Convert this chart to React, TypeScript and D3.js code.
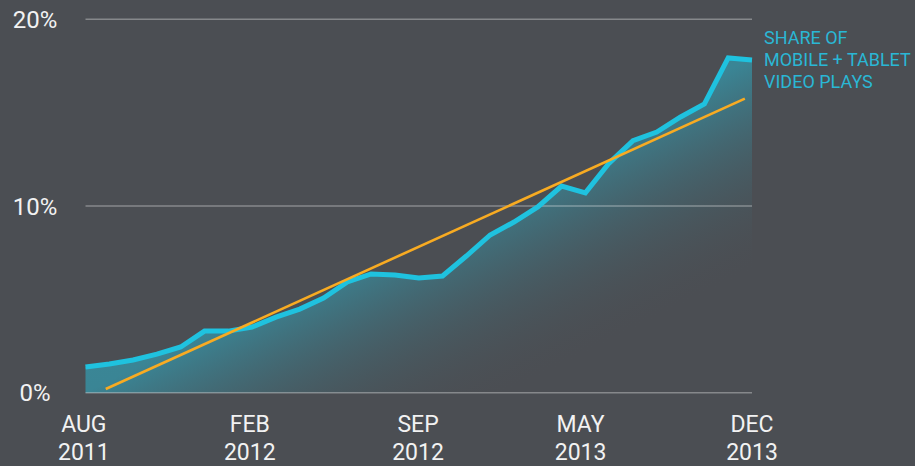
import React from "react";
import * as d3 from "d3";

// monthly share of mobile + tablet video plays, AUG 2011 .. DEC 2013 (%)
const shareValues = [
  1.38, 1.54, 1.75, 2.07, 2.45, 3.3, 3.3, 3.52, 4.05, 4.48,
  5.07, 5.93, 6.36, 6.3, 6.14, 6.25, 7.32, 8.45, 9.14, 9.95,
  11.07, 10.7, 12.3, 13.5, 13.96, 14.77, 15.47, 17.93, 17.82,
];

// trend line end points: [month index, %]
const trendPoints: [number, number][] = [
  [0.85, 0.2],
  [27.7, 15.75],
];

const tickLabels = [
  ["AUG", "2011"],
  ["FEB", "2012"],
  ["SEP", "2012"],
  ["MAY", "2013"],
  ["DEC", "2013"],
];
const tickMonths = [-0.07, 6.9, 13.97, 20.8, 28];

const yTicks = [0, 10, 20];
const seriesLabel = ["SHARE OF", "MOBILE + TABLET", "VIDEO PLAYS"];

const W = 915;
const H = 466;
const BG = "#4b4e53";
const CYAN = "#1fc2df";
const ORANGE = "#f8ab22";
const FONT = "Roboto, 'Liberation Sans', Arial, sans-serif";

export default function App() {
  const x = d3.scaleLinear().domain([0, shareValues.length - 1]).range([85.5, 752]);
  const y = d3.scaleLinear().domain([0, 20]).range([392.7, 19.3]);

  const area = d3
    .area<number>()
    .x((_, i) => x(i))
    .y0(y(0))
    .y1((d) => y(d));

  const line = d3
    .line<number>()
    .x((_, i) => x(i))
    .y((d) => y(d));

  const trend = d3
    .line<[number, number]>()
    .x((d) => x(d[0]))
    .y((d) => y(d[1]));

  return (
    <svg
      width={W}
      height={H}
      style={{ position: "absolute", left: 0, top: 0, display: "block" }}
    >
      <defs>
        <linearGradient id="areaFill" x1="0" y1="0" x2="1" y2="1">
          <stop offset="0%" stopColor="#3a909f" stopOpacity={1} />
          <stop offset="50%" stopColor="#3a8595" stopOpacity={1} />
          <stop offset="82%" stopColor={BG} stopOpacity={0} />
        </linearGradient>
      </defs>
      <rect width={W} height={H} fill={BG} />

      <path d={area(shareValues) || ""} fill="url(#areaFill)" />

      {yTicks.map((t) => (
        <g key={t}>
          <line
            x1={x(0)}
            x2={x(shareValues.length - 1)}
            y1={y(t)}
            y2={y(t)}
            stroke="#fff"
            strokeOpacity={0.33}
            strokeWidth={1.5}
          />
          <text
            x={35}
            y={y(t)}
            dy="0.36em"
            textAnchor="middle"
            fill="#f2f2f2"
            fontFamily={FONT}
            fontSize={24}
          >
            {t}%
          </text>
        </g>
      ))}

      <path
        d={line(shareValues) || ""}
        fill="none"
        stroke={CYAN}
        strokeWidth={5}
        strokeLinejoin="miter"
      />
      <path d={trend(trendPoints) || ""} fill="none" stroke={ORANGE} strokeWidth={2.6} />

      {tickLabels.map((lbl, i) => (
        <text
          key={i}
          x={x(tickMonths[i])}
          textAnchor="middle"
          fill="#f2f2f2"
          fontFamily={FONT}
          fontSize={23}
        >
          <tspan x={x(tickMonths[i])} y={432}>
            {lbl[0]}
          </tspan>
          <tspan x={x(tickMonths[i])} y={460}>
            {lbl[1]}
          </tspan>
        </text>
      ))}

      <text fill="#2ab7d5" fontFamily={FONT} fontSize={18}>
        {seriesLabel.map((s, i) => (
          <tspan key={i} x={764} y={44.3 + i * 22}>
            {s}
          </tspan>
        ))}
      </text>
    </svg>
  );
}
